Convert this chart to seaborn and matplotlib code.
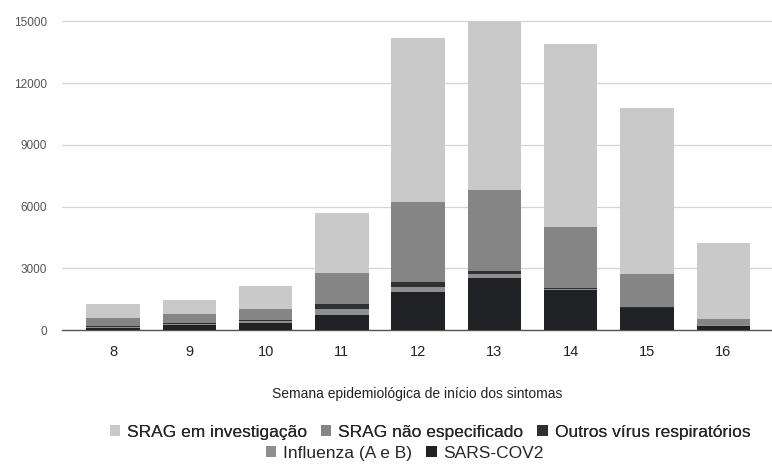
import numpy as np
import pandas as pd
import seaborn as sns
import matplotlib.pyplot as plt
from matplotlib.patches import Patch

semanas = ["8", "9", "10", "11", "12", "13", "14", "15", "16"]

# stacked bottom -> top
sars_cov2 = [100, 250, 350, 750, 1850, 2550, 1950, 1050, 200]
influenza = [50, 50, 80, 250, 250, 150, 50, 30, 20]
outros_virus = [30, 40, 60, 270, 250, 150, 50, 30, 20]
srag_nao_espec = [400, 440, 540, 1480, 3850, 3950, 2950, 1600, 300]
srag_investig = [680, 690, 1120, 2940, 8000, 8200, 8900, 8100, 3700]

series = ["SRAG em investigação", "SRAG não especificado",
          "Outros vírus respiratórios", "Influenza (A e B)", "SARS-COV2"]
colors = ["#c9c9c9", "#858585", "#2e3034", "#8f8f8f", "#202226"]

df = pd.DataFrame({
    "semana": semanas,
    "SARS-COV2": sars_cov2,
    "Influenza (A e B)": influenza,
    "Outros vírus respiratórios": outros_virus,
    "SRAG não especificado": srag_nao_espec,
    "SRAG em investigação": srag_investig,
})

sns.set_style("white")
plt.rcParams['font.family'] = ['Liberation Sans', 'DejaVu Sans']

fig = plt.figure(figsize=(7.72, 4.65), dpi=100)
ax = fig.add_axes([62 / 772, 1 - 330 / 465, 710 / 772, 325 / 465])

# cumulative totals, drawn from the top layer down so each one covers the last
stack_order = ["SARS-COV2", "Influenza (A e B)", "Outros vírus respiratórios",
               "SRAG não especificado", "SRAG em investigação"]
cum = df[stack_order].cumsum(axis=1)
for name, col in zip(series, colors):
    sns.barplot(x=df["semana"], y=cum[name], color=col, width=0.7,
                saturation=1, linewidth=0, ax=ax, zorder=3)

ax.set_xlim(-0.67, 8.64)
ax.set_ylim(0, 15800)
ax.set_yticks([0, 3000, 6000, 9000, 12000, 15000])
ax.yaxis.grid(True, color="#d4d4d4", linewidth=0.9, zorder=0)
for s in ["top", "right", "left"]:
    ax.spines[s].set_visible(False)
ax.spines["bottom"].set_color("#555555")
ax.spines["bottom"].set_linewidth(1.0)
ax.tick_params(axis="y", labelsize=8.5, labelcolor="#555555", length=0, pad=11)
ax.tick_params(axis="x", labelsize=10.5, labelcolor="#222222", length=0, pad=11)
ax.set_ylabel("")
ax.set_xlabel("Semana epidemiológica de início dos sintomas", fontsize=10,
              color="#222222", labelpad=20)

handles = [Patch(facecolor=c, edgecolor="none", label=s) for s, c in zip(series, colors)]
leg_kw = dict(loc="center", frameon=False, fontsize=12.5, handlelength=0.6,
              handleheight=0.6, handletextpad=0.4, columnspacing=0.8)
leg1 = fig.legend(handles=handles[:3], bbox_to_anchor=(430 / 772, 1 - 432 / 465), ncol=3, **leg_kw)
fig.legend(handles=handles[3:], bbox_to_anchor=(405 / 772, 1 - 453 / 465), ncol=2, **leg_kw)
fig.add_artist(leg1)

fig.savefig("out.png", dpi=100)
